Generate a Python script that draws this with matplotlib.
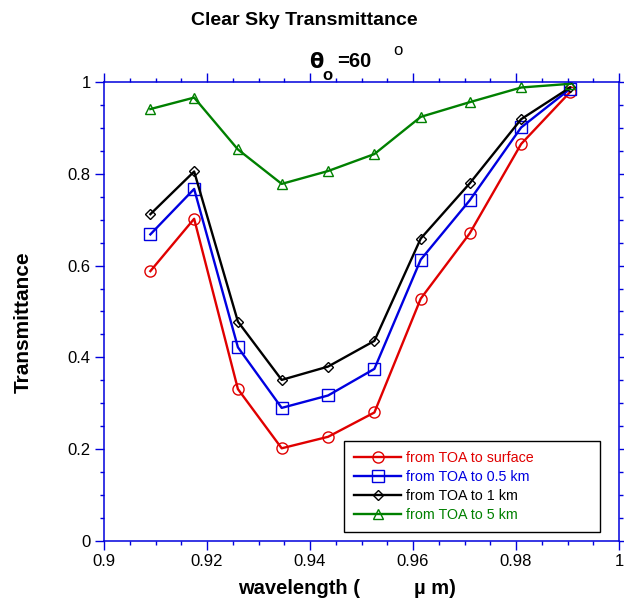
import matplotlib.pyplot as plt
from matplotlib.ticker import MultipleLocator

plt.rcParams['font.family'] = ['Liberation Sans', 'DejaVu Sans']

# wavelength in micrometres
wl = [0.909, 0.9175, 0.926, 0.9345, 0.9435, 0.9525, 0.9615, 0.971, 0.981, 0.9905]

t_surface = [0.588, 0.702, 0.331, 0.202, 0.227, 0.280, 0.528, 0.670, 0.865, 0.978]
t_05km = [0.668, 0.767, 0.422, 0.290, 0.317, 0.375, 0.613, 0.742, 0.901, 0.985]
t_1km = [0.712, 0.805, 0.478, 0.351, 0.380, 0.436, 0.659, 0.779, 0.919, 0.988]
t_5km = [0.941, 0.966, 0.853, 0.778, 0.806, 0.843, 0.924, 0.956, 0.988, 0.996]

labels = ['from TOA to surface', 'from TOA to 0.5 km', 'from TOA to 1 km', 'from TOA to 5 km']

fig = plt.figure(figsize=(6.24, 5.98), dpi=100)
ax = fig.add_axes([0.1667, 0.0953, 0.8253, 0.7676])

ax.plot(wl, t_surface, color='#e00000', lw=1.7, marker='o', ms=8, mfc='none', mec='#e00000', mew=1, label=labels[0])
ax.plot(wl, t_05km, color='#0000e0', lw=1.7, marker='s', ms=8.5, mfc='none', mec='#0000e0', mew=1, label=labels[1])
ax.plot(wl, t_1km, color='black', lw=1.7, marker='D', ms=5.5, mfc='none', mec='black', mew=1, label=labels[2])
ax.plot(wl, t_5km, color='#008000', lw=1.7, marker='^', ms=7.5, mfc='none', mec='#008000', mew=1, label=labels[3])

ax.set_xlim(0.9, 1.0)
ax.set_ylim(0, 1)
ax.xaxis.set_minor_locator(MultipleLocator(0.005))
ax.yaxis.set_minor_locator(MultipleLocator(0.05))
ax.set_xticks([0.9, 0.92, 0.94, 0.96, 0.98, 1.0])
ax.set_xticklabels(['0.9', '0.92', '0.94', '0.96', '0.98', '1'])
ax.set_yticks([0, 0.2, 0.4, 0.6, 0.8, 1])
ax.set_yticklabels(['0', '0.2', '0.4', '0.6', '0.8', '1'])

for s in ax.spines.values():
    s.set_color('#0000dd')
    s.set_linewidth(1.1)
ax.tick_params(which='both', direction='out', color='#0000dd', top=True, right=True,
               labelsize=12, labelcolor='black', width=1)
ax.tick_params(which='major', length=6.5, pad=3)
ax.tick_params(which='minor', length=3)

# axis titles placed by hand, the x one has a gap before the unit
fig.text(360 / 624, 0.0167, 'wavelength (', ha='right', va='center', fontsize=14.5, fontweight='bold')
fig.text(414 / 624, 0.0167, '\u00b5 m)', ha='left', va='center', fontsize=14.5, fontweight='bold')
fig.text(0.037, 0.4615, 'Transmittance', ha='center', va='center', rotation=90, fontsize=15, fontweight='bold')

fig.text(0.488, 0.966, 'Clear Sky Transmittance', ha='center', va='center', fontsize=14, fontweight='bold')
fig.text(0.507, 0.897, r'$\mathbf{\theta}$', ha='center', va='center', fontsize=15)
fig.text(0.524, 0.874, 'o', ha='center', va='center', fontsize=12, fontweight='bold')
fig.text(0.568, 0.897, '=60', ha='center', va='center', fontsize=14.5, fontweight='bold')
fig.text(0.638, 0.916, 'o', ha='center', va='center', fontsize=12)

leg = ax.legend(loc='lower left', bbox_to_anchor=(0.466, 0.0196, 0.497, 0.2), mode='expand',
                fontsize=10.3, labelcolor='linecolor', fancybox=False, framealpha=1,
                edgecolor='black', handlelength=3.3, borderpad=0.7, labelspacing=0.34,
                handletextpad=0.35, borderaxespad=0)
leg.get_frame().set_linewidth(1.0)

fig.savefig('out.png', dpi=100)
